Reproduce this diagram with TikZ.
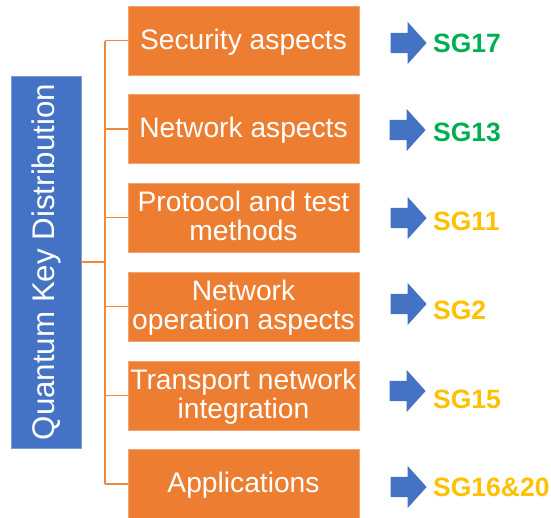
\documentclass[tikz,border=0pt]{standalone}
\usepackage{fontspec}
\setmainfont{Liberation Sans}
\usetikzlibrary{shapes.arrows}

\definecolor{qorange}{HTML}{ED7D31}
\definecolor{qline}{HTML}{F0883E}
\definecolor{qblue}{HTML}{4472C4}
\definecolor{qgreen}{HTML}{00B050}
\definecolor{qyellow}{HTML}{FFC000}

\tikzset{
  topicbox/.style={rectangle, fill=qorange, draw=qorange!70!white, line width=0.6pt,
    minimum width=231pt, minimum height=69pt, inner sep=0pt, text=white,
    align=center, text depth=3pt, font=\fontsize{28.2}{29}\selectfont},
  rootbox/.style={rectangle, fill=qblue, draw=qblue!70!white, line width=0.6pt,
    minimum width=70pt, minimum height=372pt, inner sep=0pt},
  roottext/.style={rotate=90, text=white, inner sep=0pt, font=\fontsize{31.3}{33}\selectfont},
  conn/.style={draw=qline, line width=1.6pt},
  sgarrow/.style={single arrow, fill=qblue, draw=none, inner xsep=0pt, inner ysep=10pt,
    text height=0pt, text depth=0pt, text width=0pt, minimum height=36pt,
    single arrow head extend=11pt, single arrow tip angle=96, single arrow head indent=0pt},
  sglabel/.style={anchor=west, inner sep=0pt, font=\fontsize{26.5}{28}\selectfont\bfseries},
}

\begin{document}
\begin{tikzpicture}[x=1pt, y=-1pt]
  \useasboundingbox (0,0) rectangle (551,517);

  % root
  \node[rootbox] (qkd) at (46,262) {};
  \node[roottext] (qkdtext) at (46.5,262) {Quantum Key Distribution};

  % topics
  \node[topicbox] (b1) at (243.5,40.5) {Security aspects};
  \node[topicbox] (b2) at (243.5,129) {Network aspects};
  \node[topicbox] (b3) at (243.5,217.5) {Protocol and test\\methods};
  \node[topicbox] (b4) at (243.5,306.5) {Network\\operation aspects};
  \node[topicbox] (b5) at (243.5,395.5) {Transport network\\integration};
  \node[topicbox] (b6) at (243.5,484) {Applications};

  % tree connectors
  \coordinate (trunk) at (105,0);
  \draw[conn] (b1.west -| trunk) -- (b6.west -| trunk);
  \draw[conn] (qkd.east) -- (qkd.east -| trunk);
  \foreach \b in {b1,b2,b3,b4,b5,b6}
    \draw[conn] (\b.west -| trunk) -- (\b.west);

  % arrows and study groups
  \node[sgarrow] (a1) at (404,43) {};
  \node[sgarrow] (a2) at (403,130) {};
  \node[sgarrow] (a3) at (404,218) {};
  \node[sgarrow] (a4) at (404,304) {};
  \node[sgarrow] (a5) at (403,391) {};
  \node[sgarrow] (a6) at (404,487) {};

  \node[sglabel, text=qgreen] (s1) at (433,43) {SG17};
  \node[sglabel, text=qgreen] (s2) at (433,132) {SG13};
  \node[sglabel, text=qyellow] (s3) at (433,221) {SG11};
  \node[sglabel, text=qyellow] (s4) at (433,310) {SG2};
  \node[sglabel, text=qyellow] (s5) at (433,399) {SG15};
  \node[sglabel, text=qyellow] (s6) at (433,487) {SG16\&20};
\end{tikzpicture}
\end{document}
